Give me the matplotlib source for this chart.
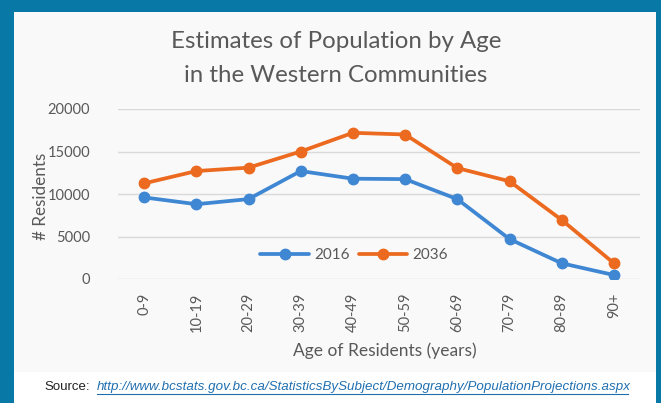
import matplotlib
matplotlib.use("Agg")
import matplotlib.pyplot as plt
from matplotlib.patches import Rectangle

categories = ["0-9", "10-19", "20-29", "30-39", "40-49", "50-59", "60-69", "70-79", "80-89", "90+"]
pop_2016 = [9600, 8800, 9400, 12700, 11800, 11750, 9400, 4700, 1850, 470]
pop_2036 = [11250, 12700, 13100, 15000, 17200, 17000, 13050, 11500, 6950, 1850]
yticks = [0, 5000, 10000, 15000, 20000]

W, H = 661, 403
fig = plt.figure(figsize=(W / 100, H / 100), dpi=100)
fig.patch.set_facecolor("#0878a6")

def fx(px):
    return px / W

def fy(py):
    return 1 - py / H

# white inner panel
fig.patches.append(Rectangle((fx(14), 0), fx(656) - fx(14), fy(12), transform=fig.transFigure,
                             facecolor="#ffffff", edgecolor="none", zorder=-2))
# chart image area (slightly grey)
fig.patches.append(Rectangle((fx(14), fy(372)), fx(656) - fx(14), fy(12) - fy(372), transform=fig.transFigure,
                             facecolor="#f9f9f9", edgecolor="none", zorder=-1))

ax = fig.add_axes([fx(118), fy(279), fx(640) - fx(118), fy(109) - fy(279)])
ax.set_facecolor("none")
x = list(range(len(categories)))
blue = "#3f87d3"
orange = "#ec6a1f"
ax.plot(x, pop_2016, color=blue, lw=2.7, marker="o", ms=7.5, label="2016", zorder=3, solid_capstyle="round")
ax.plot(x, pop_2036, color=orange, lw=2.7, marker="o", ms=7.5, label="2036", zorder=3, solid_capstyle="round")
ax.set_xlim(-0.5, 9.5)
ax.set_ylim(0, 20000)
ax.set_yticks(yticks)
ax.set_yticklabels([str(v) for v in yticks], fontsize=10.5, color="#595959", family="Lato")
ax.set_xticks(x)
ax.set_xticklabels(categories, rotation=90, fontsize=10.5, color="#595959", family="Lato")
ax.tick_params(length=0, pad=10)
ax.tick_params(axis="y", pad=20)
ax.grid(axis="y", color="#d9d9d9", lw=1)
for s in ax.spines.values():
    s.set_visible(False)
ax.set_axisbelow(True)

leg = ax.legend(loc="center", bbox_to_anchor=(fx(354), fy(255)), bbox_transform=fig.transFigure,
                ncol=2, frameon=False, prop={"family": "Lato", "size": 11}, handlelength=3.2,
                columnspacing=0.6, handletextpad=0.3)
for t in leg.get_texts():
    t.set_color("#595959")

fig.text(fx(336), fy(42), "Estimates of Population by Age", ha="center", va="center",
         fontsize=17.3, color="#595959", family="Lato")
fig.text(fx(336), fy(75), "in the Western Communities", ha="center", va="center",
         fontsize=17.3, color="#595959", family="Lato")
fig.text(fx(41), fy(196), "# Residents", rotation=90, ha="center", va="center",
         fontsize=12.3, color="#595959", family="Lato")
fig.text(fx(385), fy(351), "Age of Residents (years)", ha="center", va="center",
         fontsize=12.5, color="#595959", family="Lato")

fig.text(fx(44), fy(387), "Source:", ha="left", va="center", fontsize=9.5, color="#222222",
         family="Liberation Sans")
fig.text(fx(97), fy(387), "http://www.bcstats.gov.bc.ca/StatisticsBySubject/Demography/PopulationProjections.aspx",
         ha="left", va="center", fontsize=9.6, color="#1f6fb0", family="Liberation Sans",
         style="italic")
# underline
fig.add_artist(plt.Line2D([fx(97), fx(628)], [fy(394), fy(394)], color="#1f6fb0", lw=0.8,
                          transform=fig.transFigure))

fig.savefig("out.png", dpi=100, facecolor=fig.get_facecolor())
